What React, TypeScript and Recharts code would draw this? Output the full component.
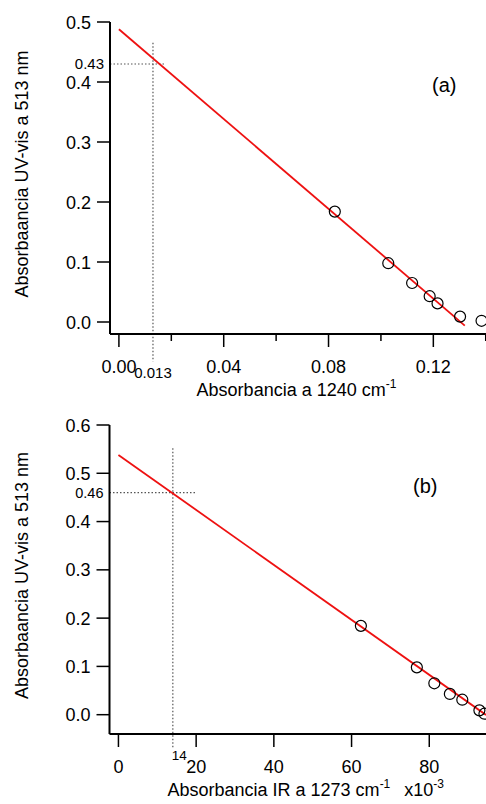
import { ComposedChart, Scatter, Line, XAxis, YAxis, ReferenceLine } from 'recharts'

const FONT = '"Liberation Sans", Arial, Helvetica, sans-serif'

// Absorbancia UV-vis a 513 nm (las mismas muestras en los dos paneles)
const uvVis = [0.184, 0.098, 0.065, 0.043, 0.031, 0.009, 0.002]
// (a) absorbancia IR a 1240 cm-1
const ir1240 = [0.0824, 0.1028, 0.1119, 0.1186, 0.1216, 0.1302, 0.1384]
// (b) absorbancia IR a 1273 cm-1 (x10^-3)
const ir1273 = [62.4, 76.8, 81.3, 85.3, 88.5, 92.9, 94.2]

// rectas de calibración: extremos [x0, x1] y [y0, y1]
const fitAx = [0, 0.132]
const fitAy = [0.488, -0.006]
const fitBx = [0, 94.6]
const fitBy = [0.538, -0.0005]

// lecturas marcadas con líneas punteadas [x, y]
const readA = [0.013, 0.43]
const readB = [14, 0.46]

const ticksXA = [0, 0.02, 0.04, 0.06, 0.08, 0.1, 0.12, 0.14]
const ticksYA = [0, 0.1, 0.2, 0.3, 0.4, 0.5]
const ticksXB = [0, 20, 40, 60, 80]
const ticksYB = [0, 0.1, 0.2, 0.3, 0.4, 0.5, 0.6]

const ptsA = ir1240.map((x, i) => ({ x, y: uvVis[i] }))
const ptsB = ir1273.map((x, i) => ({ x, y: uvVis[i] }))
const lineA = fitAx.map((x, i) => ({ x, y: fitAy[i] }))
const lineB = fitBx.map((x, i) => ({ x, y: fitBy[i] }))

const AXIS = { stroke: '#000', strokeWidth: 2 }
const DOTTED = { stroke: '#555', strokeWidth: 1.2, strokeDasharray: '1.5 2' }

function XTick({ x, y, payload, index, every, digits }: any) {
  const major = index % every === 0
  return (
    <g>
      <line x1={x} x2={x} y1={y + 1} y2={y + (major ? 13 : 7)} stroke="#000" strokeWidth={1.5} />
      {major && (
        <text x={x} y={y + 39} textAnchor="middle" fontSize={18} fontFamily={FONT} fill="#000">
          {Number(payload.value).toFixed(digits)}
        </text>
      )}
    </g>
  )
}

function YTick({ x, y, payload }: any) {
  return (
    <g>
      <line x1={x - 13} x2={x} y1={y} y2={y} stroke="#000" strokeWidth={1.5} />
      <text x={x - 19} y={y + 6.5} textAnchor="end" fontSize={18} fontFamily={FONT} fill="#000">
        {Number(payload.value).toFixed(1)}
      </text>
    </g>
  )
}

function Ring({ cx, cy }: any) {
  return <circle cx={cx} cy={cy} r={5.5} fill="none" stroke="#000" strokeWidth={1.2} />
}

function YTitle({ viewBox }: any) {
  const cy = viewBox.y + viewBox.height / 2 - 4
  return (
    <text transform={`translate(27.5, ${cy}) rotate(-90)`} textAnchor="middle" fontSize={18} fontFamily={FONT} fill="#000">
      Absorbaancia UV-vis a 513 nm
    </text>
  )
}

function XTitle({ viewBox, main, shift, tail }: any) {
  return (
    <text x={viewBox.x + viewBox.width / 2 + shift} y={viewBox.y + 62} textAnchor="middle" fontSize={18} fontFamily={FONT} fill="#000">
      <tspan>{main}</tspan>
      <tspan dy={-8} fontSize={12}>-1</tspan>
      {tail ? (
        <>
          <tspan dy={8} dx={14}>x10</tspan>
          <tspan dy={-8} fontSize={12}>-3</tspan>
        </>
      ) : null}
    </text>
  )
}

function PanelTag({ text, left, top }: { text: string; left: number; top: number }) {
  return (
    <div style={{ position: 'absolute', left, top, fontFamily: FONT, fontSize: 20, lineHeight: '20px', color: '#000' }}>
      {text}
    </div>
  )
}

export default function App() {
  return (
    <div style={{ position: 'absolute', left: 0, top: 0, width: 486, height: 804, background: '#fff', overflow: 'hidden' }}>
      {/* (a) IR a 1240 cm-1 */}
      <div style={{ position: 'absolute', left: 0, top: 0 }}>
        <ComposedChart width={486} height={400} margin={{ top: 22, right: 0, bottom: 26, left: 50 }}>
          <XAxis
            type="number"
            dataKey="x"
            domain={[-0.0034, 0.1401]}
            ticks={ticksXA}
            interval={0}
            allowDataOverflow
            height={40}
            tickSize={0}
            tickMargin={0}
            tickLine={false}
            axisLine={AXIS}
            tick={(p: any) => <XTick {...p} every={2} digits={2} />}
            label={(p: any) => <XTitle {...p} main="Absorbancia a 1240 cm" shift={-1.5} />}
          />
          <YAxis
            type="number"
            dataKey="y"
            domain={[-0.02, 0.5]}
            ticks={ticksYA}
            interval={0}
            allowDataOverflow
            width={60}
            tickSize={0}
            tickMargin={0}
            tickLine={false}
            axisLine={AXIS}
            tick={(p: any) => <YTick {...p} />}
            label={(p: any) => <YTitle {...p} />}
          />
          <ReferenceLine
            segment={[{ x: readA[0], y: 0.4655 }, { x: readA[0], y: -0.066 }]}
            ifOverflow="visible"
            {...DOTTED}
            label={({ viewBox }: any) => (
              <text x={viewBox.x} y={viewBox.y + viewBox.height + 16.5} textAnchor="middle" fontSize={15} fontFamily={FONT} fill="#000">
                {String(readA[0])}
              </text>
            )}
          />
          <ReferenceLine
            segment={[{ x: -0.0034, y: readA[1] }, { x: 0.0175, y: readA[1] }]}
            ifOverflow="visible"
            {...DOTTED}
            label={({ viewBox }: any) => (
              <text x={viewBox.x - 6} y={viewBox.y + 5} textAnchor="end" fontSize={15} fontFamily={FONT} fill="#000">
                {readA[1].toFixed(2)}
              </text>
            )}
          />
          <Line data={lineA} dataKey="y" type="linear" stroke="#ee1111" strokeWidth={1.8} dot={false} activeDot={false} isAnimationActive={false} />
          <Scatter data={ptsA} dataKey="y" shape={(p: any) => <Ring {...p} />} isAnimationActive={false} />
        </ComposedChart>
        <PanelTag text="(a)" left={432} top={75} />
      </div>

      {/* (b) IR a 1273 cm-1 */}
      <div style={{ position: 'absolute', left: 0, top: 400 }}>
        <ComposedChart width={486} height={404} margin={{ top: 25, right: 0, bottom: 30, left: 49.5 }}>
          <XAxis
            type="number"
            dataKey="x"
            domain={[-2.3, 94.6]}
            ticks={ticksXB}
            interval={0}
            allowDataOverflow
            height={40}
            tickSize={0}
            tickMargin={0}
            tickLine={false}
            axisLine={AXIS}
            tick={(p: any) => <XTick {...p} every={1} digits={0} />}
            label={(p: any) => <XTitle {...p} main="Absorbancia IR a 1273 cm" shift={8} tail />}
          />
          <YAxis
            type="number"
            dataKey="y"
            domain={[-0.04, 0.6]}
            ticks={ticksYB}
            interval={0}
            allowDataOverflow
            width={60}
            tickSize={0}
            tickMargin={0}
            tickLine={false}
            axisLine={AXIS}
            tick={(p: any) => <YTick {...p} />}
            label={(p: any) => <YTitle {...p} />}
          />
          <ReferenceLine
            segment={[{ x: readB[0], y: 0.552 }, { x: readB[0], y: -0.07 }]}
            ifOverflow="visible"
            {...DOTTED}
            label={({ viewBox }: any) => (
              <text x={viewBox.x - 1} y={viewBox.y + viewBox.height + 12} textAnchor="start" fontSize={13.5} fontFamily={FONT} fill="#000">
                {String(readB[0])}
              </text>
            )}
          />
          <ReferenceLine
            segment={[{ x: -2.3, y: readB[1] }, { x: 19.7, y: readB[1] }]}
            ifOverflow="visible"
            {...DOTTED}
            label={({ viewBox }: any) => (
              <text x={viewBox.x - 6} y={viewBox.y + 5} textAnchor="end" fontSize={14.5} fontFamily={FONT} fill="#000">
                {readB[1].toFixed(2)}
              </text>
            )}
          />
          <Line data={lineB} dataKey="y" type="linear" stroke="#ee1111" strokeWidth={1.8} dot={false} activeDot={false} isAnimationActive={false} />
          <Scatter data={ptsB} dataKey="y" shape={(p: any) => <Ring {...p} />} isAnimationActive={false} />
        </ComposedChart>
        <PanelTag text="(b)" left={413} top={76} />
      </div>
    </div>
  )
}
